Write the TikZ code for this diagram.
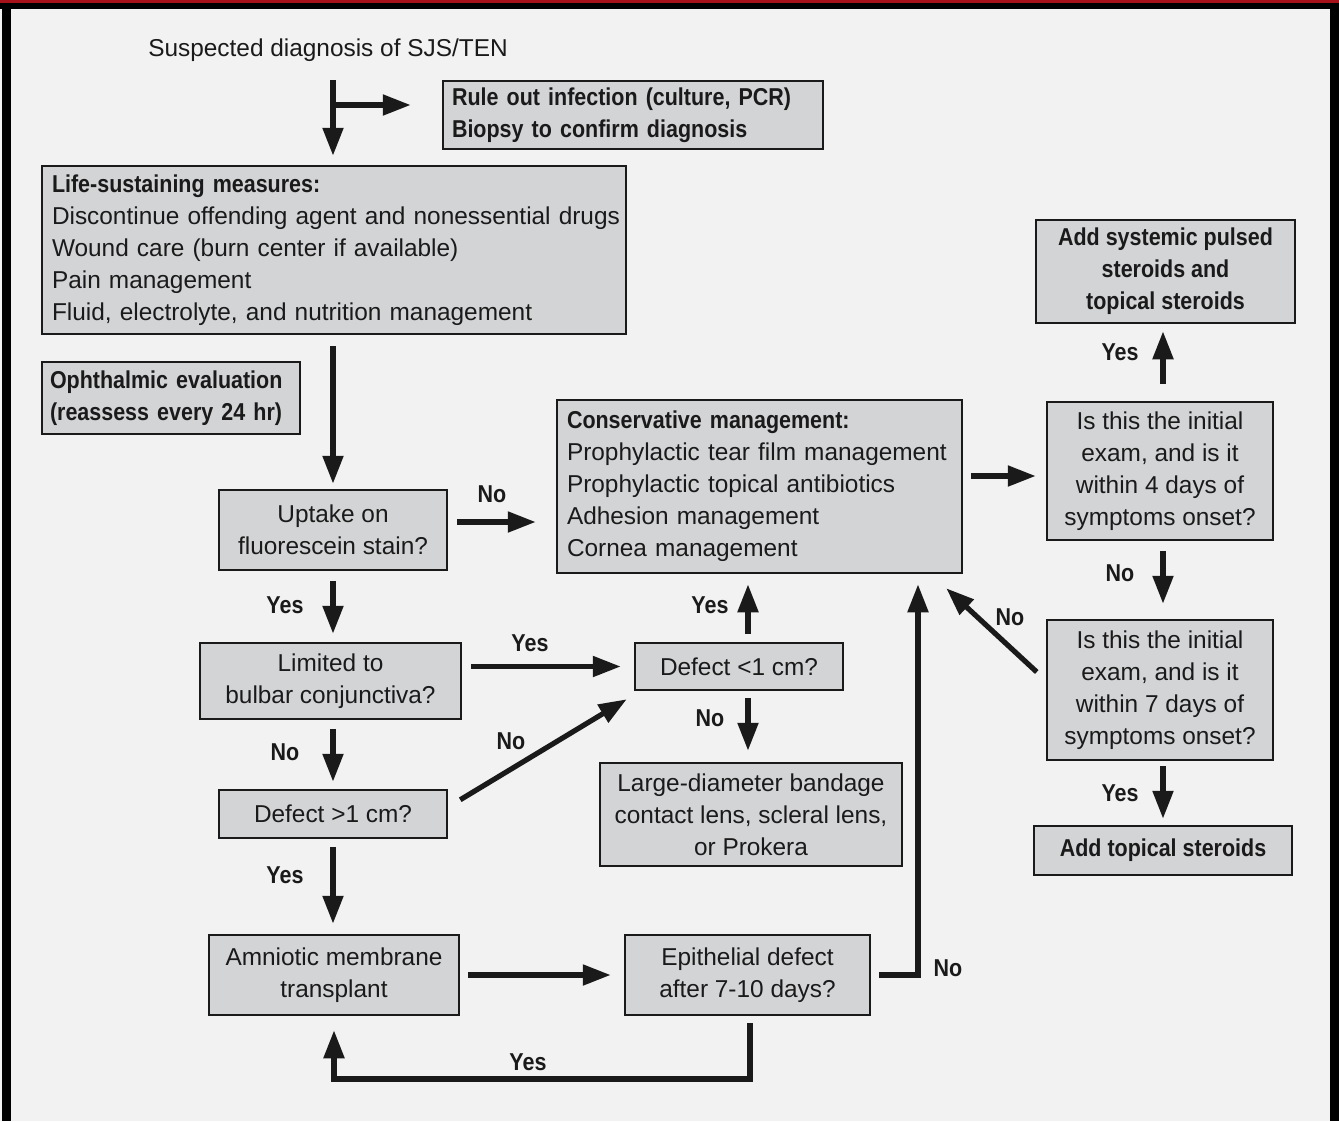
\documentclass[tikz,border=0pt]{standalone}
\usepackage{fontspec}
\setmainfont{Liberation Sans}[BoldFeatures={FakeStretch=0.88}]
\usetikzlibrary{arrows.meta,positioning}
\definecolor{ink}{HTML}{1A1A1A}
\definecolor{boxfill}{HTML}{D3D4D6}
\definecolor{pagefill}{HTML}{F2F2F2}
\definecolor{framered}{HTML}{A6121A}
\begin{document}
\begin{tikzpicture}[
  x=0.5pt, y=-0.5pt,
  block/.style={rectangle, draw=ink, fill=boxfill, line width=1.25pt, inner sep=0pt, align=center, text=ink},
  listblock/.style={block, align=left, inner ysep=0pt},
  boldblock/.style={font=\fontsize{12.2}{16}\selectfont\bfseries},
  lbl/.style={font=\fontsize{12.2}{16}\selectfont\bfseries, text=ink, inner sep=0pt},
  arr/.style={draw=ink, line width=2.6pt, -{Triangle[length=14pt,width=10pt]}},
  font=\fontsize{12.2}{16}\selectfont
]
\useasboundingbox (0,0) rectangle (1339,1121);
% Frame
\fill[pagefill] (0,0) rectangle (1339,1121);
\fill[framered] (0,0) rectangle (1339,3);
\fill[black] (0,3) rectangle (1339,9);
\fill[black] (2,9) rectangle (11,1121);
\fill[black] (1330,9) rectangle (1339,1121);

% Left column
\node[text=ink] (susp) at (328,50) {Suspected diagnosis of SJS/TEN};
\node[listblock, boldblock, text width=181pt, inner xsep=4.5pt, minimum height=34pt] (rule) at (633,115) {Rule out infection (culture, PCR)\\Biopsy to confirm diagnosis};
\node[listblock, text width=282pt, inner xsep=5pt, minimum height=84pt] (life) at (334,250) {\textbf{Life-sustaining measures:}\\\mbox{Discontinue offending agent and nonessential drugs}\\Wound care (burn center if available)\\Pain management\\Fluid, electrolyte, and nutrition management};
\node[listblock, boldblock, text width=121pt, inner xsep=4pt, minimum height=36pt] (ophth) at (171,398) {Ophthalmic evaluation\\(reassess every 24 hr)};
\node[block, minimum width=114pt, minimum height=40pt] (uptake) at (333,530) {Uptake on\\fluorescein stain?};
\node[block, below of=uptake, node distance=75.5pt, xshift=-1.25pt, minimum width=130.5pt, minimum height=38pt] (limited) {Limited to\\bulbar conjunctiva?};
\node[block, below of=uptake, node distance=142pt, minimum width=114pt, minimum height=24pt] (dgt) {Defect >1 cm?};
\node[block, below of=dgt, node distance=80.5pt, xshift=0.5pt, minimum width=125pt, minimum height=40pt] (amt) {Amniotic membrane\\transplant};

% Middle column
\node[listblock, text width=192.5pt, inner xsep=5pt, minimum height=86.5pt] (cons) at (759.5,486.5) {\textbf{Conservative management:}\\Prophylactic tear film management\\Prophylactic topical antibiotics\\Adhesion management\\Cornea management};
\node[block, minimum width=104pt, minimum height=23.5pt] (dlt) at (739,666.5) {Defect <1 cm?};
\node[block, below of=dlt, node distance=74pt, xshift=6pt, minimum width=151pt, minimum height=51.5pt] (lens) {Large-diameter bandage\\contact lens, scleral lens,\\or Prokera};
\node[block, right of=amt, node distance=206.75pt, minimum width=122.5pt, minimum height=40pt] (epi) {Epithelial defect\\after 7-10 days?};

% Right column
\node[block, minimum width=113pt, minimum height=69pt] (init4) at (1160,471) {Is this the initial\\exam, and is it\\within 4 days of\\symptoms onset?};
\node[block, boldblock, above of=init4, node distance=99.75pt, xshift=2.75pt, minimum width=129.5pt, minimum height=51.5pt] (systemic) {Add systemic pulsed\\steroids and\\topical steroids};
\node[block, below of=init4, node distance=109.5pt, minimum width=113pt, minimum height=70pt] (init7) {Is this the initial\\exam, and is it\\within 7 days of\\symptoms onset?};
\node[block, boldblock, below of=init7, node distance=80.25pt, xshift=1.5pt, minimum width=129pt, minimum height=24.5pt] (topical) {Add topical steroids};

% Arrows
\coordinate (split) at (333,105);
\draw[arr, shorten <=6pt, shorten >=4.5pt] (split |- susp.south) -- (split |- life.north);
\draw[arr, shorten >=15.5pt] (split) -- (split -| rule.west);
\draw[arr, shorten <=5.5pt, shorten >=2.5pt] (uptake.north |- life.south) -- (uptake.north);
\draw[arr, shorten <=4.5pt, shorten >=10pt] ([yshift=4pt]uptake.east) -- ([yshift=4pt]uptake.east -| cons.west);
\draw[arr, shorten <=4pt, shorten >=5pt] ([yshift=-2.5pt]init4.west -| cons.east) -- ([yshift=-2.5pt]init4.west);
\draw[arr, shorten <=8.5pt, shorten >=3.5pt] ([xshift=1.5pt]init4.north) -- ([xshift=1.5pt]init4.north |- systemic.south);
\draw[arr, shorten <=5pt, shorten >=7.5pt] ([xshift=1.5pt]init4.south) -- ([xshift=1.5pt]init7.north);
\draw[arr, shorten <=2.5pt, shorten >=3pt] ([xshift=1.5pt]init7.south) -- ([xshift=1.5pt]init7.south |- topical.north);
\draw[arr] ([shift={(-4.5pt,9pt)}]init7.west) -- ([shift={(-8.5pt,-7pt)}]cons.south east);
\draw[arr, shorten <=5pt, shorten >=4pt] (uptake.south) -- (uptake.south |- limited.north);
\draw[arr, shorten <=4.5pt, shorten >=6.5pt] (limited.east |- dlt.west) -- (dlt.west);
\draw[arr, shorten <=4pt, shorten >=5pt] ([xshift=4.5pt]dlt.north) -- ([xshift=4.5pt]dlt.north |- cons.south);
\draw[arr, shorten <=3.5pt, shorten >=5.5pt] ([xshift=4.5pt]dlt.south) -- ([xshift=4.5pt]dlt.south |- lens.north);
\draw[arr, shorten <=4.5pt, shorten >=3.5pt] (uptake.south |- limited.south) -- (dgt.north);
\draw[arr] ([shift={(6pt,-5.5pt)}]dgt.north east) -- ([shift={(-3.5pt,-4pt)}]dlt.south west);
\draw[arr, shorten <=4pt, shorten >=5pt] (dgt.south) -- (dgt.south |- amt.north);
\draw[arr, shorten <=4pt, shorten >=6.5pt] (amt.east) -- (epi.west);
\coordinate (noturn) at (918,975);
\draw[arr, shorten <=4pt, shorten >=5pt] (epi.east) -- (noturn) -- (noturn |- cons.south);
\coordinate (yesturn) at (750,1079);
\draw[arr, shorten <=3.5pt, shorten >=7pt] (yesturn |- epi.south) -- (yesturn) -| (amt.south);

% Labels
\node[lbl] (l_up_no) at (492,494) {No};
\node[lbl] (l_sys_yes) at (1120,352) {Yes};
\node[lbl] (l_i4_no) at (1120,573) {No};
\node[lbl] (l_i7_yes) at (1120,793) {Yes};
\node[lbl] (l_i7_no) at (1010,617) {No};
\node[lbl] (l_up_yes) at (285,605) {Yes};
\node[lbl] (l_lim_yes) at (530,643) {Yes};
\node[lbl] (l_dlt_yes) at (710,605) {Yes};
\node[lbl] (l_dlt_no) at (710,718) {No};
\node[lbl] (l_lim_no) at (285,752) {No};
\node[lbl] (l_dgt_no) at (511,741) {No};
\node[lbl] (l_dgt_yes) at (285,875) {Yes};
\node[lbl] (l_epi_no) at (948,968) {No};
\node[lbl] (l_epi_yes) at (528,1062) {Yes};
\end{tikzpicture}
\end{document}
